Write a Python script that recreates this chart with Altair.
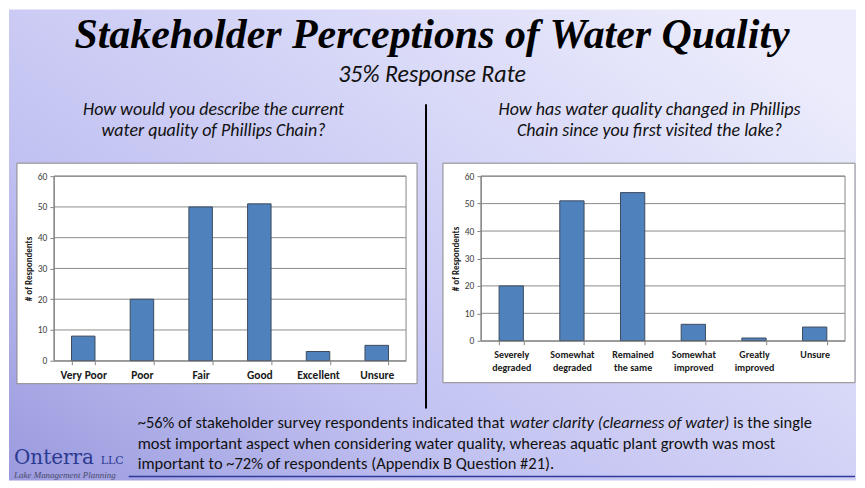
import altair as alt
import pandas as pd

TITLE = "Stakeholder Perceptions of Water Quality"
SUBTITLE = "35% Response Rate"
LEFT_QUESTION = ["How would you describe the current", "water quality of Phillips Chain?"]
RIGHT_QUESTION = ["How has water quality changed in Phillips", "Chain since you first visited the lake?"]

left_categories = ["Very Poor", "Poor", "Fair", "Good", "Excellent", "Unsure"]
left_counts = [8, 20, 50, 51, 3, 5]

right_categories = ["Severely\ndegraded", "Somewhat\ndegraded", "Remained\nthe same",
                    "Somewhat\nimproved", "Greatly\nimproved", "Unsure"]
right_counts = [20, 51, 54, 6, 1, 5]

y_ticks = [0, 10, 20, 30, 40, 50, 60]
grid_values = [10, 20, 30, 40, 50, 60]
Y_TITLE = "# of Respondents"

FOOTER_1 = ["~56% of stakeholder survey respondents indicated that",
            "water clarity (clearness of water)", "is the single"]
FOOTER_2 = "most important aspect when considering water quality, whereas aquatic plant growth was most"
FOOTER_3 = "important to ~72% of respondents (Appendix B Question #21)."
LOGO = ["Onterra", "LLC", "Lake Management Planning"]

SANS = "Carlito, Lato, 'Open Sans', sans-serif"
SERIF = "'Liberation Serif', serif"
LOGO_SERIF = "'DejaVu Serif', serif"

LW, LH = 353, 185
RW, RH = 365, 165

one = pd.DataFrame({"k": [0]})


def txt(text, x, y, size, font=SANS, align="center", **kw):
    return alt.Chart(pd.DataFrame({"t": [text]})).mark_text(
        align=align, baseline="alphabetic", fontSize=size, font=font, **kw
    ).encode(x=alt.value(x), y=alt.value(y), text="t:N")


def box(x1, x2, y1, y2, **kw):
    return alt.Chart(one).mark_rect(**kw).encode(
        x=alt.value(x1), x2=alt.value(x2), y=alt.value(y1), y2=alt.value(y2))


def panel(cats, counts, W, H, bx, label_size, tick_label_size, multiline=False):
    yscale = alt.Scale(domain=[0, 60], nice=False)
    df = pd.DataFrame({"category": cats, "count": counts})
    xaxis = dict(title=None, labelAngle=0, labelFontWeight="bold", labelFontSize=label_size,
                 labelColor="#1a1a1a", labelFont=SANS, labelPadding=5, tickSize=4,
                 tickColor="#868686", tickBand="extent", domainColor="#868686", zindex=1,
                 grid=False)
    if multiline:
        xaxis["labelExpr"] = "split(datum.label, '\\n')"
        xaxis["labelLineHeight"] = 13
        xaxis["labelBaseline"] = "top"
    yaxis = alt.Axis(values=y_ticks, title=Y_TITLE, titleFont=SANS, titleFontSize=9,
                     titleFontWeight="bold", titleColor="#1a1a1a", titlePadding=4,
                     labelFont=SANS, labelFontSize=tick_label_size, labelColor="#404040",
                     labelPadding=3, tickSize=4, tickColor="#868686",
                     domainColor="#868686", grid=False, zindex=1)
    white = box(bx[0], bx[1], bx[2], bx[3], fill="white", stroke="#8a8a8a", strokeWidth=1)
    grid = alt.Chart(pd.DataFrame({"count": grid_values})).mark_rule(
        color="#8c8c8c", strokeWidth=1).encode(
        y=alt.Y("count:Q", scale=yscale, axis=yaxis), x=alt.value(0), x2=alt.value(W))
    border = box(0, W, 0, H, fillOpacity=0, stroke="#868686", strokeWidth=1)
    bars = alt.Chart(df).mark_bar(fill="#4f81bd", stroke="#3c4a5c", strokeWidth=1).encode(
        x=alt.X("category:N", sort=cats,
                scale=alt.Scale(paddingInner=0.6, paddingOuter=0.3),
                axis=alt.Axis(**xaxis)),
        y=alt.Y("count:Q", scale=yscale, axis=yaxis),
    )
    return [white, grid, border, bars]


gradient = {
    "gradient": "linear", "x1": 0, "y1": 1, "x2": 1, "y2": 0.2,
    "stops": [
        {"offset": 0, "color": "#9a9ade"},
        {"offset": 0.35, "color": "#c2c2f2"},
        {"offset": 0.7, "color": "#d8d8f8"},
        {"offset": 1, "color": "#ececfc"},
    ],
}

bg = box(-45, 804, -167, 305, fill=gradient)

annotations = [
    txt(TITLE, 379, -128, 42, font=SERIF, fontWeight="bold", fontStyle="italic", color="#000"),
    txt(SUBTITLE, 379, -94, 24, fontStyle="italic", color="#111"),
    txt(LEFT_QUESTION[0], 160, -61, 18, fontStyle="italic", color="#111"),
    txt(LEFT_QUESTION[1], 160, -40, 18, fontStyle="italic", color="#111"),
    txt(RIGHT_QUESTION[0], 597, -61, 18, fontStyle="italic", color="#111"),
    txt(RIGHT_QUESTION[1], 597, -40, 18, fontStyle="italic", color="#111"),
    alt.Chart(one).mark_rule(color="#000", strokeWidth=2).encode(
        x=alt.value(373), y=alt.value(-72), y2=alt.value(233)),
    txt(FOOTER_1[0], 84, 252, 16.5, align="left", color="#111"),
    txt(FOOTER_1[1], 457, 252, 16.5, align="left", fontStyle="italic", color="#111"),
    txt(FOOTER_1[2], 681, 252, 16.5, align="left", color="#111"),
    txt(FOOTER_2, 84, 273, 16.5, align="left", color="#111"),
    txt(FOOTER_3, 84, 294, 16.5, align="left", color="#111"),
    alt.Chart(one).mark_rule(color="#2e3a9c", strokeWidth=1.5).encode(
        x=alt.value(75), x2=alt.value(803), y=alt.value(301)),
    txt(LOGO[0], -40, 289, 20, font=LOGO_SERIF, align="left", color="#2b3990"),
    txt(LOGO[1], 47, 289, 11, font=LOGO_SERIF, align="left", color="#2b3990"),
    txt(LOGO[2], -40, 303, 9, font=SERIF, align="left", fontStyle="italic", color="#4a4a6a"),
]

left = alt.layer(
    bg,
    *panel(left_categories, left_counts, LW, LH, (-37, 364, -13, 208), 11.5, 9.5),
    *annotations,
).properties(width=LW, height=LH)

right = alt.layer(
    *panel(right_categories, right_counts, RW, RH, (-38, 375, -13, 207), 10, 9.5, multiline=True),
).properties(width=RW, height=RH)

chart = alt.hconcat(left, right, spacing=75, bounds="flush").configure_view(
    stroke="transparent").properties(padding=0)

chart.save("out.html", embed_options={"renderer": "svg", "actions": False})
